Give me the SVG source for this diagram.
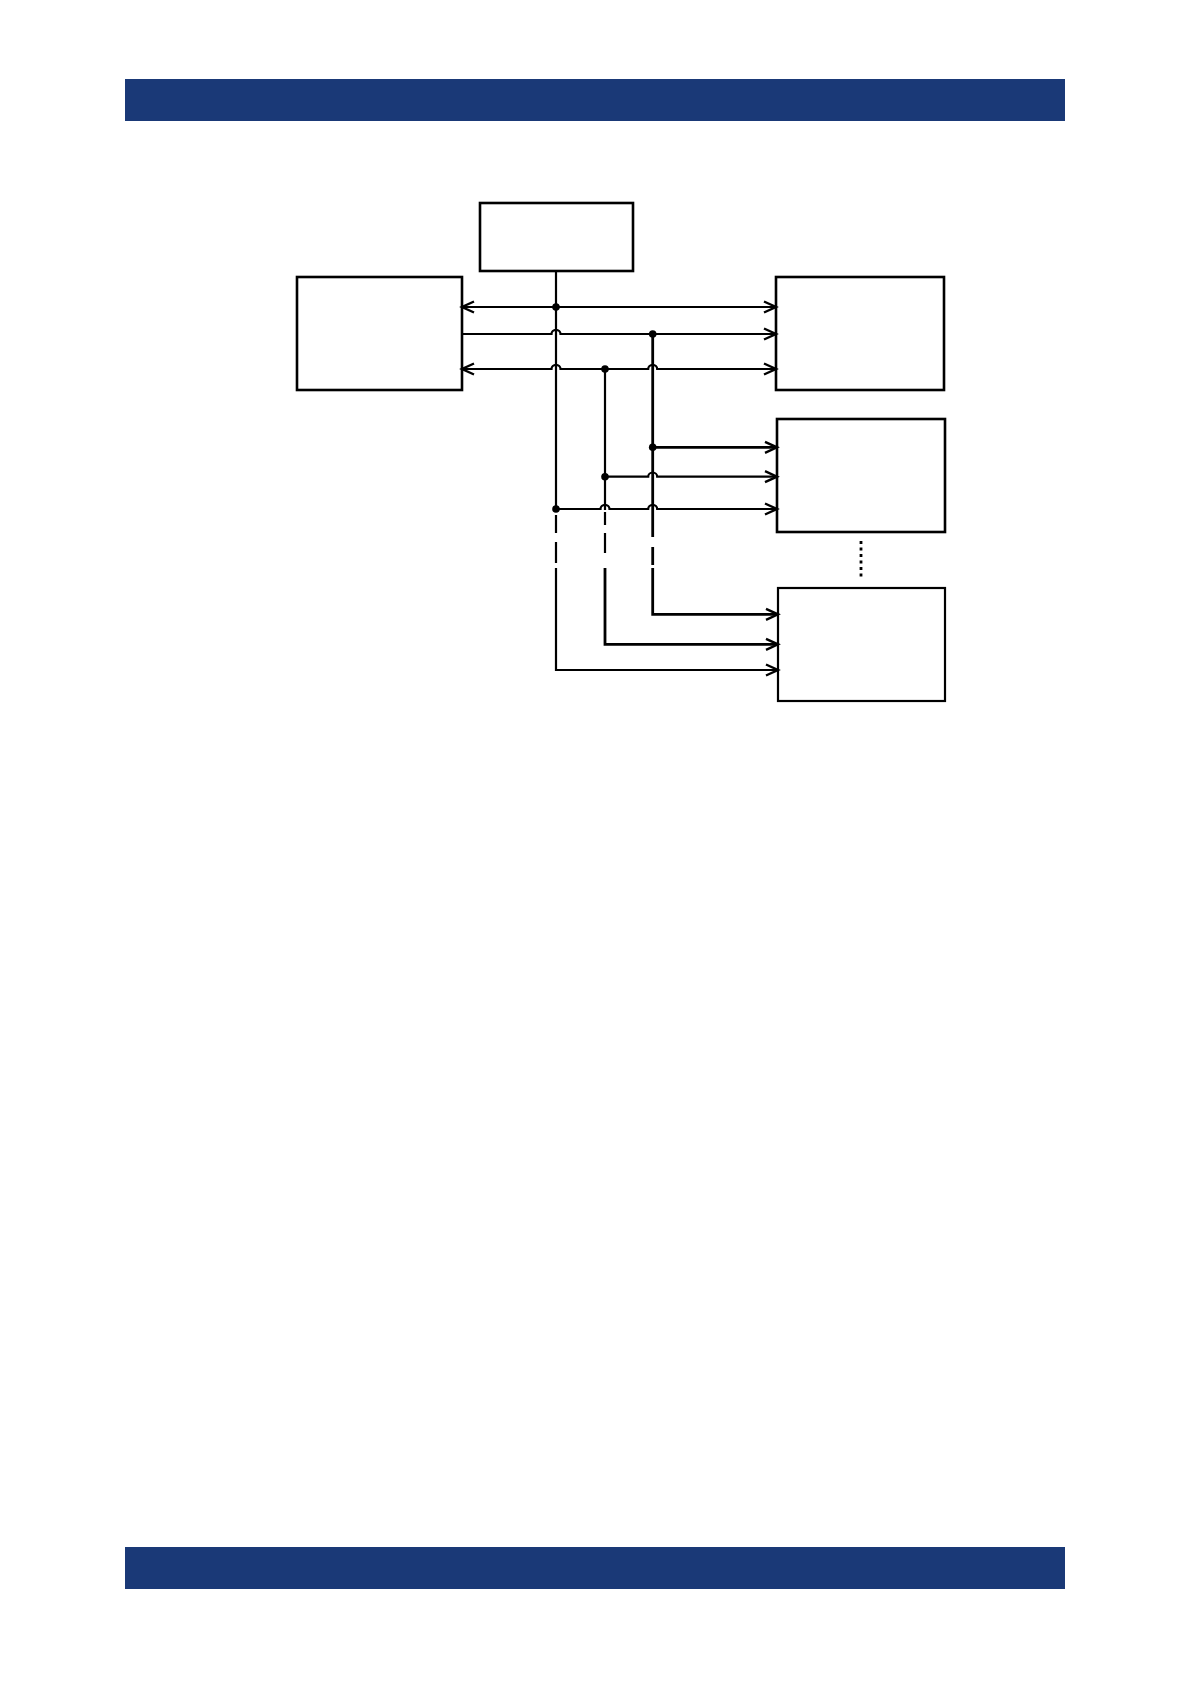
<svg xmlns="http://www.w3.org/2000/svg" width="1191" height="1684" viewBox="0 0 1191 1684">
<style>
.box{fill:#fff;stroke:#000;stroke-width:2.6}
.w{fill:none;stroke:#000;stroke-width:2.2;stroke-linecap:butt;stroke-linejoin:miter}
.t{stroke-width:2.8}
.band{fill:#1a3977}
.dot{fill:#000}
</style>
<defs>
<marker id="ah" markerUnits="userSpaceOnUse" markerWidth="16" markerHeight="14" refX="13" refY="7" orient="auto-start-reverse" overflow="visible">
<path d="M1,1.5 L13,7 L1,12.5" fill="none" stroke="#000" stroke-width="2.4"/>
</marker>
</defs>
<rect class="band" x="125" y="79" width="940" height="42"/>
<rect class="band" x="125" y="1547" width="940" height="42"/>
<g id="node-top"><rect class="box" x="480" y="203" width="153" height="68"/></g>
<g id="node-left"><rect class="box" x="297" y="277" width="165" height="113"/></g>
<g id="node-right1"><rect class="box" x="776" y="277" width="168" height="113"/></g>
<g id="node-right2"><rect class="box" x="777" y="419" width="168" height="113"/></g>
<g id="node-right3"><rect class="box" x="778" y="588" width="167" height="113" style="stroke-width:2.2"/></g>
<g id="connectors">
<path class="w" d="M462,307 H776" marker-start="url(#ah)" marker-end="url(#ah)"/>
<path class="w" d="M462,334 H551.5 a4.5,4.2 0 0 1 9,0 H776" marker-end="url(#ah)"/>
<path class="w" d="M462,369 H551.5 a4.5,4.2 0 0 1 9,0 H648.2 a4.5,4.2 0 0 1 9,0 H776" marker-start="url(#ah)" marker-end="url(#ah)"/>
<path class="w" d="M556,271 V512"/>
<path class="w" d="M605,369 V510"/>
<path class="w t" d="M652.7,334 V537"/>
<path class="w t" d="M652.7,447.3 H777" marker-end="url(#ah)"/>
<path class="w" d="M605,476.7 H648.2 a4.5,4.2 0 0 1 9,0 H777" marker-end="url(#ah)"/>
<path class="w" d="M556,509 H600.5 a4.5,4.2 0 0 1 9,0 H648.2 a4.5,4.2 0 0 1 9,0 H777" marker-end="url(#ah)"/>
<path class="w" d="M556,515 V533 M556,542 V563"/>
<path class="w" d="M605,512 V525 M605,533 V553"/>
<path class="w t" d="M652.7,547 V565"/>
<path class="w t" d="M652.7,568 V614.3 H778" marker-end="url(#ah)"/>
<path class="w t" d="M605,568 V644.3 H778" marker-end="url(#ah)"/>
<path class="w" d="M556,568 V670 H778" marker-end="url(#ah)"/>
<circle class="dot" cx="556" cy="307" r="3.8"/>
<circle class="dot" cx="652.7" cy="334" r="3.8"/>
<circle class="dot" cx="605" cy="369" r="3.8"/>
<circle class="dot" cx="652.7" cy="447.3" r="3.8"/>
<circle class="dot" cx="605" cy="476.7" r="3.8"/>
<circle class="dot" cx="556" cy="509" r="3.8"/>
<path d="M861,541 V580" fill="none" stroke="#000" stroke-width="2.8" stroke-dasharray="3 3.5"/>
</g>
</svg>
